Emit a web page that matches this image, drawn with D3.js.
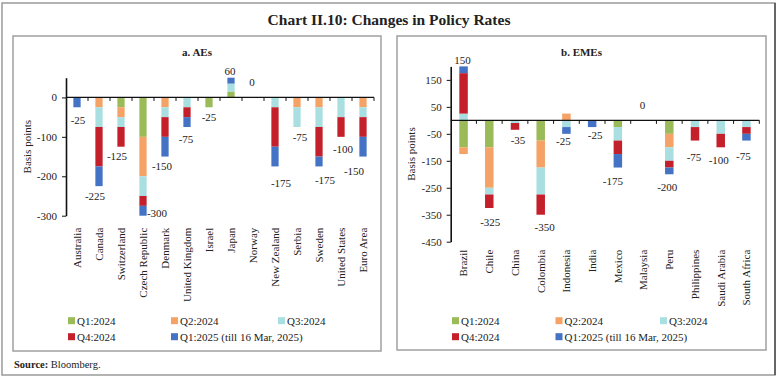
<!DOCTYPE html>
<html>
<head>
<meta charset="utf-8">
<script src="https://cdn.jsdelivr.net/npm/d3@7"></script>
<style>
  body { margin: 0; background: #fff; }
  text { font-family: "Liberation Serif", "DejaVu Serif", serif; fill: #222; }
</style>
</head>
<body>
<div id="chart"></div>
<script>
// Series keys and legend labels
var quarters = ["Q1:2024", "Q2:2024", "Q3:2024", "Q4:2024", "Q1:2025 (till 16 Mar, 2025)"];
var quarterColors = ["#9bbb59", "#f5a266", "#a9dfe0", "#c4202c", "#4472c4"];

// a. AEs
var aeCountries = ["Australia", "Canada", "Switzerland", "Czech Republic", "Denmark", "United Kingdom",
  "Israel", "Japan", "Norway", "New Zealand", "Serbia", "Sweden", "United States", "Euro Area"];
var aeQ1_2024 = [0, 0, -25, -100, 0, 0, -25, 15, 0, 0, 0, 0, 0, 0];
var aeQ2_2024 = [0, -25, -25, -100, -25, 0, 0, 0, 0, 0, -25, -25, 0, -25];
var aeQ3_2024 = [0, -50, -25, -50, -25, -25, 0, 20, 0, -25, -50, -50, -50, -25];
var aeQ4_2024 = [0, -100, -50, -25, -50, -25, 0, 0, 0, -100, 0, -75, -50, -50];
var aeQ1_2025 = [-25, -50, 0, -25, -50, -25, 0, 25, 0, -50, 0, -25, 0, -50];
var aeTicks = [0, -100, -200, -300];

// b. EMEs
var emeCountries = ["Brazil", "Chile", "China", "Colombia", "Indonesia", "India", "Mexico",
  "Malaysia", "Peru", "Philippines", "Saudi Arabia", "South Africa"];
var emeQ1_2024 = [-100, -100, 0, -75, 0, 0, -25, 0, -50, 0, 0, 0];
var emeQ2_2024 = [-25, -150, 0, -100, 25, 0, 0, 0, -50, 0, 0, 0];
var emeQ3_2024 = [25, -25, -10, -100, -25, 0, -50, 0, -50, -25, -50, -25];
var emeQ4_2024 = [150, -50, -25, -75, 0, 0, -50, 0, -25, -50, -50, -25];
var emeQ1_2025 = [100, 0, 0, 0, -25, -25, -50, 0, -25, 0, 0, -25];
var emeTicks = [150, 50, -50, -150, -250, -350, -450];

// hand placed value labels (dx, dy from the bar end), like the original
var aeLabelNudge = [[1, 13], [-4, 10], [-4, 9], [14, -3], [-3, 10], [-1, 12], [0, 10],
  [-1, -7], [-1, -15], [6, 17], [3, 10], [6, 14], [2, 12], [-9, 15]];
var emeLabelNudge = [[-1, -6], [1, 14], [3, 10], [4, 12], [-3, 7], [3, 8], [-5, 14],
  [-1, -15], [-2, 13], [-1, 17], [-2, 13], [-3, 16]];

var svgWidth = 779;
var svgHeight = 381;

var svg = d3.select("#chart")
  .append("svg")
  .attr("width", svgWidth)
  .attr("height", svgHeight);

// outer frame
svg.append("rect")
  .attr("x", 2).attr("y", 3)
  .attr("width", 773).attr("height", 372)
  .attr("fill", "none")
  .attr("stroke", "#9a9a9a")
  .attr("stroke-width", 1.5);
svg.append("line")
  .attr("x1", 775).attr("x2", 775).attr("y1", 3).attr("y2", 375)
  .attr("stroke", "#333").attr("stroke-width", 1.2);

svg.append("text")
  .attr("x", 389).attr("y", 20)
  .attr("dy", "0.35em")
  .attr("text-anchor", "middle")
  .attr("font-weight", "bold")
  .attr("font-size", "15.5px")
  .text("Chart II.10: Changes in Policy Rates");

svg.append("text")
  .attr("x", 14).attr("y", 364)
  .attr("dy", "0.35em")
  .attr("font-size", "10.5px")
  .html("<tspan font-weight='bold'>Source:</tspan> Bloomberg.");

function drawPanel(p) {
  var g = svg.append("g");

  g.append("rect")
    .attr("x", p.box[0]).attr("y", p.box[1])
    .attr("width", p.box[2] - p.box[0]).attr("height", p.box[3] - p.box[1])
    .attr("fill", "none")
    .attr("stroke", "#a0a0a0")
    .attr("stroke-width", 1.5);

  g.append("text")
    .attr("x", (p.box[0] + p.box[2]) / 2).attr("y", 52)
    .attr("dy", "0.35em")
    .attr("text-anchor", "middle")
    .attr("font-weight", "bold")
    .attr("font-size", "11px")
    .text(p.title);

  // build the table from the series arrays
  var table = p.countries.map(function(c, i) {
    var row = { country: c };
    quarters.forEach(function(q, k) { row[q] = p.series[k][i]; });
    return row;
  });

  var stack = d3.stack()
    .keys(quarters)
    .offset(d3.stackOffsetDiverging);
  var layers = stack(table);

  var xScale = d3.scaleBand()
    .domain(p.countries)
    .range([p.left, p.right])
    .paddingInner(0.67)
    .paddingOuter(0.335);

  var yScale = d3.scaleLinear()
    .domain(p.domain)
    .range([p.bottom, p.top])
    .clamp(true);

  var step = xScale.step();
  var zeroY = yScale(0);

  // bars
  g.selectAll(".layer")
    .data(layers)
    .enter()
    .append("g")
    .attr("fill", function(d, k) { return quarterColors[k]; })
    .selectAll("rect")
    .data(function(d) { return d; })
    .enter()
    .append("rect")
    .attr("x", function(d) { return xScale(d.data.country); })
    .attr("width", xScale.bandwidth())
    .attr("y", function(d) { return yScale(Math.max(d[0], d[1])); })
    .attr("height", function(d) { return Math.abs(yScale(d[0]) - yScale(d[1])); });

  // y axis
  var leftAxis = d3.axisLeft(yScale)
    .tickValues(p.ticks)
    .tickSize(4)
    .tickSizeOuter(0)
    .tickFormat(function(d) { return String(d); });
  var yAxis = g.append("g")
    .attr("transform", `translate(${p.left}, 0)`)
    .call(leftAxis);
  yAxis.select(".domain").attr("stroke", "#111").attr("stroke-width", 1.6);
  yAxis.selectAll(".tick line").attr("stroke", "#111");
  yAxis.selectAll(".tick text")
    .attr("font-family", "Liberation Serif, serif")
    .attr("font-size", "11px")
    .attr("fill", "#222")
    .attr("x", -9);

  // x axis at zero with category boundary ticks
  g.append("line")
    .attr("x1", p.left).attr("x2", p.right)
    .attr("y1", zeroY).attr("y2", zeroY)
    .attr("stroke", "#111").attr("stroke-width", 1.2);
  g.selectAll(".xtick")
    .data(p.countries)
    .enter()
    .append("line")
    .attr("x1", function(d) { return xScale(d) + xScale.bandwidth() / 2 + step / 2; })
    .attr("x2", function(d) { return xScale(d) + xScale.bandwidth() / 2 + step / 2; })
    .attr("y1", zeroY).attr("y2", zeroY + 3.5)
    .attr("stroke", "#111");

  // y axis title
  g.append("text")
    .attr("transform", `translate(${p.axisTitleX}, ${(p.top + p.bottom) / 2}) rotate(-90)`)
    .attr("text-anchor", "middle")
    .attr("dy", "0.35em")
    .attr("font-size", "11px")
    .text("Basis points");

  // category labels
  g.selectAll(".cat")
    .data(p.countries)
    .enter()
    .append("text")
    .attr("transform", function(d) {
      return `translate(${xScale(d) + xScale.bandwidth() / 2}, ${p.bottom + p.catGap}) rotate(-90)`;
    })
    .attr("text-anchor", "end")
    .attr("dy", "0.35em")
    .attr("font-size", "11px")
    .text(function(d) { return d; });

  // value labels (total change)
  g.selectAll(".val")
    .data(table)
    .enter()
    .append("text")
    .attr("x", function(d, i) { return xScale(d.country) + xScale.bandwidth() / 2 + p.nudge[i][0]; })
    .attr("y", function(d, i) {
      var total = d3.sum(quarters, function(q) { return d[q]; });
      var neg = d3.sum(quarters, function(q) { return Math.min(d[q], 0); });
      var pos = d3.sum(quarters, function(q) { return Math.max(d[q], 0); });
      var end = total > 0 ? yScale(pos) : (neg < 0 ? yScale(neg) : zeroY);
      return end + p.nudge[i][1];
    })
    .attr("dy", "0.35em")
    .attr("text-anchor", "middle")
    .attr("font-size", "11px")
    .text(function(d) {
      return String(d3.sum(quarters, function(q) { return d[q]; }));
    });

  // legend
  var legend = g.append("g");
  quarters.forEach(function(q, k) {
    var lx = p.legendX[k < 3 ? k : k - 3];
    var ly = k < 3 ? 320.7 : 336.7;
    legend.append("rect")
      .attr("x", lx).attr("y", ly - 3.5)
      .attr("width", 7).attr("height", 7)
      .attr("fill", quarterColors[k]);
    legend.append("text")
      .attr("x", lx + 9).attr("y", ly)
      .attr("dy", "0.35em")
      .attr("font-size", "11px")
      .text(q);
  });
}

drawPanel({
  title: "a. AEs",
  box: [13, 36, 381, 351],
  countries: aeCountries,
  series: [aeQ1_2024, aeQ2_2024, aeQ3_2024, aeQ4_2024, aeQ1_2025],
  ticks: aeTicks,
  domain: [-300, 50],
  left: 66, right: 374, top: 77.7, bottom: 215.7,
  catGap: 12,
  axisTitleX: 27,
  nudge: aeLabelNudge,
  legendX: [68, 171, 278]
});

drawPanel({
  title: "b. EMEs",
  box: [397, 36, 766, 350],
  countries: emeCountries,
  series: [emeQ1_2024, emeQ2_2024, emeQ3_2024, emeQ4_2024, emeQ1_2025],
  ticks: emeTicks,
  domain: [-450, 200],
  left: 450.7, right: 759.3, top: 66.4, bottom: 241.7,
  catGap: 8,
  axisTitleX: 411,
  nudge: emeLabelNudge,
  legendX: [452, 555.5, 660]
});
</script>
</body>
</html>
